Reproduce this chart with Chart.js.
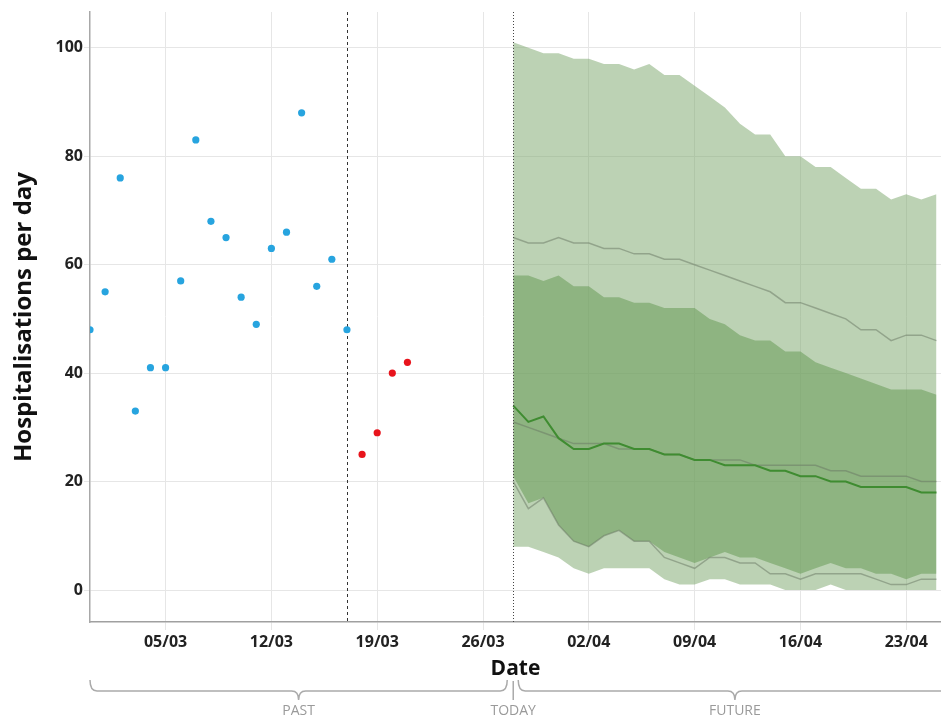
<!DOCTYPE html>
<html>
<head>
<meta charset="utf-8">
<script src="https://cdn.jsdelivr.net/npm/chart.js@4.4.0/dist/chart.umd.min.js"></script>
<style>
    html, body { margin: 0; padding: 0; background: #fff; }
    canvas { display: block; }
</style>
</head>
<body>
<canvas id="forecastChart" width="941" height="718"></canvas>
<script>
// ==========================================
// DATA (day 0 = 28/02)
// ==========================================
const tickDays   = [5, 12, 19, 26, 33, 40, 47, 54];
const tickLabels = ['05/03', '12/03', '19/03', '26/03', '02/04', '09/04', '16/04', '23/04'];
const yTicks     = [0, 20, 40, 60, 80, 100];

const observedStart = 0;
const observedCases = [48, 55, 76, 33, 41, 41, 57, 83, 68, 65, 54, 49, 63, 66, 88, 56, 61, 48];
const recentStart   = 18;
const recentCases   = [25, 29, 40, 42];

const lastFitDay = 17;
const todayDay   = 28;

// forecast, one value per day from today
const outerUpper = [101, 100, 99, 99, 98, 98, 97, 97, 96, 97, 95, 95, 93, 91, 89, 86, 84, 84, 80, 80, 78, 78, 76, 74, 74, 72, 73, 72, 73];
const grayUpper  = [65, 64, 64, 65, 64, 64, 63, 63, 62, 62, 61, 61, 60, 59, 58, 57, 56, 55, 53, 53, 52, 51, 50, 48, 48, 46, 47, 47, 46];
const innerUpper = [58, 58, 57, 58, 56, 56, 54, 54, 53, 53, 52, 52, 52, 50, 49, 47, 46, 46, 44, 44, 42, 41, 40, 39, 38, 37, 37, 37, 36];
const median     = [34, 31, 32, 28, 26, 26, 27, 27, 26, 26, 25, 25, 24, 24, 23, 23, 23, 22, 22, 21, 21, 20, 20, 19, 19, 19, 19, 18, 18];
const grayMid    = [31, 30, 29, 28, 27, 27, 27, 26, 26, 26, 25, 25, 24, 24, 24, 24, 23, 23, 23, 23, 23, 22, 22, 21, 21, 21, 21, 20, 20];
const innerLower = [21, 16, 17, 12, 9, 8, 10, 11, 9, 9, 7, 6, 5, 6, 7, 6, 6, 5, 4, 3, 4, 5, 4, 4, 3, 3, 2, 3, 3];
const grayLower  = [20, 15, 17, 12, 9, 8, 10, 11, 9, 9, 6, 5, 4, 6, 6, 5, 5, 3, 3, 2, 3, 3, 3, 3, 2, 1, 1, 2, 2];
const outerLower = [8, 8, 7, 6, 4, 3, 4, 4, 4, 4, 2, 1, 1, 2, 2, 1, 1, 1, 0, 0, 0, 1, 0, 0, 0, 0, 0, 0, 0];

const toPoints = (start, arr) => arr.map((v, i) => ({ x: start + i, y: v }));

const FONT = '"Open Sans", Lato, "Noto Sans", sans-serif';

// ==========================================
// EXTRA DRAWING: split lines + past/future braces
// ==========================================
function drawBrace(ctx, x0, x1, yTop, yLine, yTip) {
    const mid = (x0 + x1) / 2;
    const r = 7;
    ctx.beginPath();
    ctx.moveTo(x0, yTop);
    ctx.quadraticCurveTo(x0, yLine, x0 + r, yLine);
    ctx.lineTo(mid - r, yLine);
    ctx.quadraticCurveTo(mid, yLine, mid, yTip);
    ctx.quadraticCurveTo(mid, yLine, mid + r, yLine);
    ctx.lineTo(x1 - r, yLine);
    ctx.quadraticCurveTo(x1, yLine, x1, yTop);
    ctx.stroke();
    return mid;
}

const markers = {
    id: 'markers',
    beforeDatasetsDraw(chart) {
        const { ctx, chartArea: a, scales: { x } } = chart;
        const px = Math.round(x.getPixelForValue(lastFitDay)) + 0.5;
        ctx.save();
        ctx.strokeStyle = '#333';
        ctx.lineWidth = 1;
        ctx.setLineDash([3, 3]);
        ctx.beginPath();
        ctx.moveTo(px, a.top);
        ctx.lineTo(px, a.bottom);
        ctx.stroke();
        ctx.restore();
    },
    afterDatasetsDraw(chart) {
        const { ctx, chartArea: a, scales: { x } } = chart;
        const px = Math.round(x.getPixelForValue(todayDay)) + 0.5;
        ctx.save();
        ctx.strokeStyle = '#444';
        ctx.lineWidth = 1;
        ctx.setLineDash([1, 2]);
        ctx.beginPath();
        ctx.moveTo(px, a.top);
        ctx.lineTo(px, a.bottom);
        ctx.stroke();
        ctx.restore();
    },
    afterDraw(chart) {
        const { ctx, scales: { x } } = chart;
        const today = x.getPixelForValue(todayDay);
        ctx.save();
        ctx.strokeStyle = '#aaa';
        ctx.lineWidth = 1.5;
        ctx.fillStyle = '#9a9a9a';
        ctx.font = '14px ' + FONT;
        ctx.textAlign = 'center';
        ctx.textBaseline = 'middle';

        const pastMid = drawBrace(ctx, x.getPixelForValue(0), today - 6, 680, 691, 700);
        const futureMid = drawBrace(ctx, today + 5, x.getPixelForValue(57), 680, 691, 700);

        ctx.beginPath();
        ctx.moveTo(today, 681);
        ctx.lineTo(today, 700);
        ctx.stroke();

        ctx.fillText('PAST', pastMid, 711);
        ctx.fillText('TODAY', today, 711);
        ctx.fillText('FUTURE', futureMid, 711);
        ctx.restore();
    }
};

// ==========================================
// CHART
// ==========================================
const lightBand = 'rgba(121, 165, 105, 0.5)';
const darkBand  = 'rgba(98, 152, 80, 0.5)';
const grayLine  = 'rgba(105, 120, 100, 0.5)';
const tickFont  = { family: FONT, size: 16, weight: 'bold' };

const bandLine = (label, data, extra) => Object.assign({
    label: label,
    data: toPoints(todayDay, data),
    borderWidth: 0,
    borderColor: 'transparent',
    pointRadius: 0,
    fill: false
}, extra);

const ctx = document.getElementById('forecastChart').getContext('2d');
new Chart(ctx, {
    type: 'line',
    data: {
        datasets: [
            { label: 'Observed', data: toPoints(observedStart, observedCases), showLine: false,
              pointRadius: 3.6, pointBackgroundColor: '#27a4df', pointBorderWidth: 0, order: 0 },
            { label: 'Recent', data: toPoints(recentStart, recentCases), showLine: false,
              pointRadius: 3.6, pointBackgroundColor: '#e8141c', pointBorderWidth: 0, order: 0 },
            bandLine('Median', median, { borderColor: '#3f8c31', borderWidth: 2, order: 1 }),
            bandLine('Prev median', grayMid, { borderColor: grayLine, borderWidth: 1.5, order: 2 }),
            bandLine('Prev upper', grayUpper, { borderColor: grayLine, borderWidth: 1.5, order: 2 }),
            bandLine('Prev lower', grayLower, { borderColor: grayLine, borderWidth: 1.5, order: 2 }),
            bandLine('Inner lower', innerLower, { order: 3 }),
            bandLine('Inner upper', innerUpper, { fill: { target: 6 }, backgroundColor: darkBand, order: 3 }),
            bandLine('Outer lower', outerLower, { order: 4 }),
            bandLine('Outer upper', outerUpper, { fill: { target: 8 }, backgroundColor: lightBand, order: 4 })
        ]
    },
    options: {
        responsive: false,
        animation: false,
        layout: { autoPadding: false, padding: { top: 12, right: 0, bottom: 36, left: 0 } },
        plugins: {
            legend: { display: false },
            tooltip: { enabled: false }
        },
        elements: { line: { tension: 0 } },
        scales: {
            x: {
                type: 'linear',
                min: 0,
                max: 56.3,
                afterBuildTicks: (scale) => { scale.ticks = tickDays.map(v => ({ value: v })); },
                afterFit: (scale) => {
                    scale.height = 60;
                    scale.paddingLeft = 0;
                    scale.paddingRight = 0;
                },
                ticks: {
                    color: '#222',
                    font: tickFont,
                    padding: 3,
                    maxRotation: 0,
                    callback: (value) => tickLabels[tickDays.indexOf(value)]
                },
                grid: { color: '#e6e6e6', tickLength: 8 },
                border: { color: '#a0a0a0', width: 1.5 },
                title: {
                    display: true,
                    text: 'Date',
                    color: '#111',
                    font: { family: FONT, size: 21, weight: 'bold' },
                    padding: { top: 0, bottom: 0 }
                }
            },
            y: {
                min: -5.9,
                max: 106.6,
                afterBuildTicks: (scale) => { scale.ticks = yTicks.map(v => ({ value: v })); },
                afterFit: (scale) => { scale.width = 90; },
                ticks: { color: '#222', font: tickFont, padding: 1 },
                grid: { color: '#e6e6e6', tickLength: 6 },
                border: { color: '#a8a8a8', width: 1.5 },
                title: {
                    display: true,
                    text: 'Hospitalisations per day',
                    color: '#111',
                    font: { family: FONT, size: 24, weight: 'bold' },
                    padding: { top: 10, bottom: 0 }
                }
            }
        }
    },
    plugins: [markers]
});
</script>
</body>
</html>
